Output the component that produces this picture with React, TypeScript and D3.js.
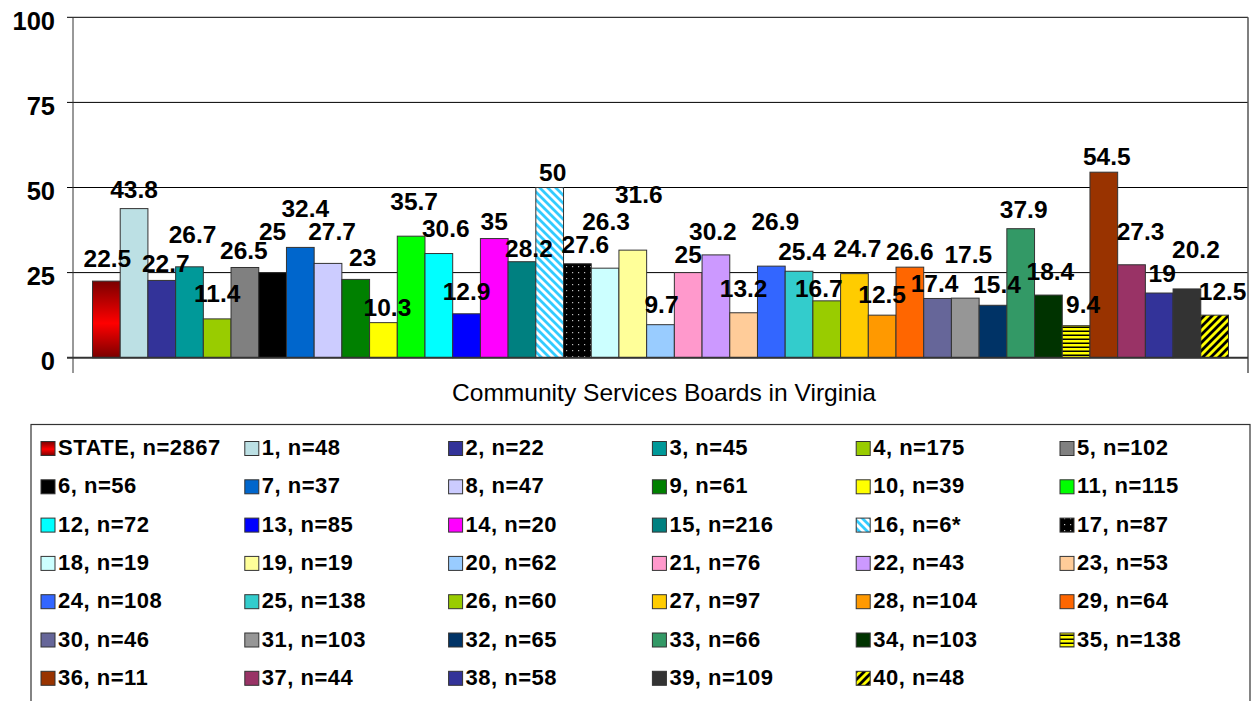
import React from 'react';
import * as d3 from 'd3';

// ---------- data ----------
const categories = ['STATE','1','2','3','4','5','6','7','8','9','10','11','12','13','14','15','16','17','18','19','20','21','22','23','24','25','26','27','28','29','30','31','32','33','34','35','36','37','38','39','40'];
const values = [22.5,43.8,22.7,26.7,11.4,26.5,25,32.4,27.7,23,10.3,35.7,30.6,12.9,35,28.2,50,27.6,26.3,31.6,9.7,25,30.2,13.2,26.9,25.4,16.7,24.7,12.5,26.6,17.4,17.5,15.4,37.9,18.4,9.4,54.5,27.3,19,20.2,12.5];
const valueLabels = ['22.5','43.8','22.7','26.7','11.4','26.5','25','32.4','27.7','23','10.3','35.7','30.6','12.9','35','28.2','50','27.6','26.3','31.6','9.7','25','30.2','13.2','26.9','25.4','16.7','24.7','12.5','26.6','17.4','17.5','15.4','37.9','18.4','9.4','54.5','27.3','19','20.2','12.5'];
const legendLabels = ['STATE, n=2867','1, n=48','2, n=22','3, n=45','4, n=175','5, n=102','6, n=56','7, n=37','8, n=47','9, n=61','10, n=39','11, n=115','12, n=72','13, n=85','14, n=20','15, n=216','16, n=6*','17, n=87','18, n=19','19, n=19','20, n=62','21, n=76','22, n=43','23, n=53','24, n=108','25, n=138','26, n=60','27, n=97','28, n=104','29, n=64','30, n=46','31, n=103','32, n=65','33, n=66','34, n=103','35, n=138','36, n=11','37, n=44','38, n=58','39, n=109','40, n=48'];
const yTicks = [0,25,50,75,100];
const axisTitle = 'Community Services Boards in Virginia';

// ---------- styles ----------
const fills = ['url(#gState)','#BCE0E4','#333399','#009999','#99CC00','#808080','#000000','#0066CC','#CCCCFF','#008000','#FFFF00','#00FF00','#00FFFF','#0000FF','#FF00FF','#008080','url(#pDiagBlue)','url(#pDots)','#CCFFFF','#FFFF99','#99CCFF','#FF99CC','#CC99FF','#FFCC99','#3366FF','#33CCCC','#99CC00','#FFCC00','#FF9900','#FF6600','#666699','#969696','#003366','#339966','#003300','url(#pHoriz)','#993300','#993366','#333399','#333333','url(#pDiagYellow)'];
// manual label nudges [dx, dy] relative to bar centre / bar top (layout, as placed in the original)
const labelNudge: [number, number][] = [[1,-14],[0,-11],[4,-8],[3,-24],[0,-17],[-1,-8],[0,-33],[5,-30],[4,-23],[7,-13],[4,-7],[3,-26],[7,-17],[0,-14],[0,-9],[7,-5],[3,-7],[8,-11],[1,-38],[6,-47],[1,-12],[0,-10],[-3,-15],[0,-16],[4,-36],[3,-11],[-8,-4],[3,-17],[0,-12],[0,-7],[-3,-6],[3,-35],[4,-12],[3,-11],[2,-15],[7,-13],[3,-7],[9,-25],[3,-11],[9,-31],[8,-15]];

const FONT = '"Liberation Sans", Arial, sans-serif';

export default function App() {
  const plotL = 73, plotR = 1248, plotT = 17.3, plotB = 357.7;
  const y = d3.scaleLinear().domain([0, 100]).range([plotB, plotT]);
  const x = d3.scaleBand<string>().domain(categories).range([plotL, plotR]).paddingInner(0).paddingOuter(0.704);
  const bw = x.bandwidth();

  const legCols = 6;
  const legX = d3.scaleLinear().domain([0, 1]).range([41, 244.8]);
  const legY = d3.scaleLinear().domain([0, 1]).range([441.5, 479.8]);

  return (
    <svg width={1254} height={701} style={{ position: 'absolute', left: 0, top: 0, background: '#fff' }} fontFamily={FONT}>
      <defs>
        <linearGradient id="gState" x1="0" y1="0" x2="0" y2="1">
          <stop offset="0%" stopColor="#7a0000" />
          <stop offset="55%" stopColor="#ff0000" />
          <stop offset="100%" stopColor="#7a0000" />
        </linearGradient>
        <pattern id="pDiagBlue" width="8" height="8" patternUnits="userSpaceOnUse">
          <rect width="8" height="8" fill="#ffffff" />
          <path d="M0,0 L8,8 M-4,4 L4,12 M4,-4 L12,4" stroke="#33CCFF" strokeWidth="2.8" />
        </pattern>
        <pattern id="pDiagYellow" width="8" height="8" patternUnits="userSpaceOnUse">
          <rect width="8" height="8" fill="#FFFF00" />
          <path d="M0,8 L8,0 M-4,4 L4,-4 M4,12 L12,4" stroke="#000000" strokeWidth="2.8" />
        </pattern>
        <pattern id="pHoriz" width="4" height="4" patternUnits="userSpaceOnUse">
          <rect width="4" height="4" fill="#FFFF00" />
          <rect y="2.5" width="4" height="1.5" fill="#000000" />
        </pattern>
        <pattern id="pDots" width="6" height="6" patternUnits="userSpaceOnUse">
          <rect width="6" height="6" fill="#000000" />
          <rect x="2" y="2" width="1.2" height="1.2" fill="#bbbbbb" />
        </pattern>
      </defs>

      {/* gridlines */}
      {yTicks.filter(t => t > 0).map(t => (
        <line key={'g' + t} x1={67} x2={plotR} y1={y(t)} y2={y(t)} stroke="#000" strokeWidth={1} />
      ))}
      {/* right border & y axis */}
      <line x1={plotR} x2={plotR} y1={plotT} y2={373} stroke="#555" strokeWidth={1.5} />
      <line x1={plotL} x2={plotL} y1={plotT} y2={373} stroke="#333" strokeWidth={1} />

      {/* bars */}
      {values.map((v, i) => (
        <rect key={'b' + i} x={x(categories[i])!} y={y(v)} width={bw} height={y(0) - y(v)}
          fill={fills[i]} stroke="#333" strokeWidth={1} />
      ))}

      {/* zero line */}
      <line x1={67} x2={plotR} y1={y(0)} y2={y(0)} stroke="#333" strokeWidth={2} />

      {/* y tick labels */}
      {yTicks.map(t => (
        <text key={'t' + t} x={55} y={y(t) + 12.5} textAnchor="end" fontSize={25.5} fontWeight="bold" fill="#000">{t}</text>
      ))}

      {/* value labels */}
      {values.map((v, i) => (
        <text key={'l' + i} x={x(categories[i])! + bw / 2 + labelNudge[i][0]} y={y(v) + labelNudge[i][1]}
          textAnchor="middle" fontSize={24.5} fontWeight="bold" fill="#000">{valueLabels[i]}</text>
      ))}

      {/* axis title */}
      <text x={664} y={401} textAnchor="middle" fontSize={24} fill="#000" textLength={424} lengthAdjust="spacingAndGlyphs">{axisTitle}</text>

      {/* legend */}
      <rect x={31} y={424.5} width={1219} height={300} fill="none" stroke="#333" strokeWidth={1.2} />
      {legendLabels.map((lab, i) => {
        const c = i % legCols, r = Math.floor(i / legCols);
        const mx = legX(c), my = legY(r);
        return (
          <g key={'lg' + i}>
            <rect x={mx} y={my} width={14} height={14} fill={fills[i]} stroke="#333" strokeWidth={1} />
            <text x={mx + 17} y={my + 13.5} fontSize={22} fontWeight="bold" fill="#000" letterSpacing={0.5}>{lab}</text>
          </g>
        );
      })}
    </svg>
  );
}
